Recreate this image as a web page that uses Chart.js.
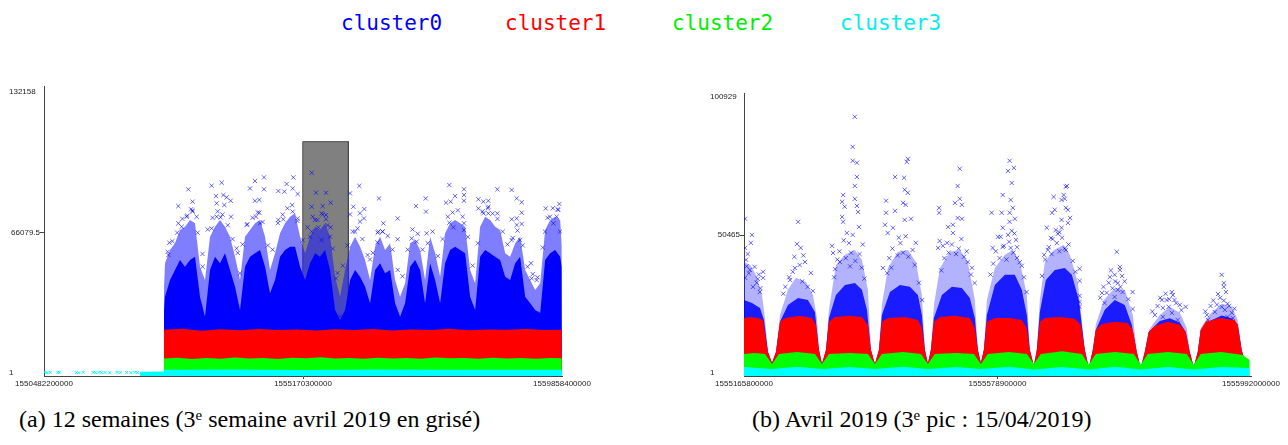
<!DOCTYPE html>
<html><head><meta charset="utf-8">
<script src="https://cdn.jsdelivr.net/npm/chart.js@4.4.1/dist/chart.umd.min.js"></script>
<style>
html,body{margin:0;padding:0;background:#fff;width:1288px;height:445px;overflow:hidden;position:relative;}
canvas{position:absolute;}
.leg{position:absolute;top:11px;font-family:'DejaVu Sans Mono',monospace;font-size:21px;line-height:24px;white-space:nowrap;}
.cap{position:absolute;font-family:'Liberation Serif',serif;font-size:24px;line-height:28px;white-space:nowrap;color:#000;}
.cap sup{font-size:0.62em;vertical-align:0.5em;line-height:0;}
</style></head><body>
<div class="leg" style="left:341px;color:#0000ff">cluster0</div>
<div class="leg" style="left:505px;color:#ff0000">cluster1</div>
<div class="leg" style="left:672px;color:#00ee00">cluster2</div>
<div class="leg" style="left:840px;color:#00eeee">cluster3</div>
<canvas id="ca" width="620" height="316" style="left:0;top:80px"></canvas>
<canvas id="cb" width="588" height="316" style="left:700px;top:80px"></canvas>
<div class="cap" id="capA" style="left:19px;top:405px">(a) 12 semaines (3<sup>e</sup> semaine avril 2019 en grisé)</div>
<div class="cap" id="capB" style="left:752px;top:405px">(b) Avril 2019 (3<sup>e</sup> pic : 15/04/2019)</div>
<script>
const DAY = 86400000;
// ---- chart (a): 12 weeks ----
const T0A = 1550482200000, T1A = 1559858400000;
const xTicksA = [1550482200000, 1555170300000, 1559858400000];
const yTicksA = [1, 66079.5, 132158];
// points are [days since axis start, value]
const greyWeekA = [[54.21,0],[54.21,108800],[63.77,108800],[63.77,0]];
const blueMidA = [[25.10,1],[25.15,40600],[25.35,51600],[26.40,57850],[27.44,61000],[28.49,67250],[29.54,68800],[30.59,72000],[31.63,70400],[32.68,50000],[33.73,43700],[34.78,64100],[35.83,68800],[36.87,72000],[37.92,68800],[38.97,64100],[40.02,54700],[41.07,43700],[42.11,64100],[43.16,67250],[44.21,70400],[45.26,72000],[46.31,64100],[47.35,48400],[48.40,56300],[49.45,65700],[50.50,70400],[51.55,73500],[52.59,75100],[53.64,64100],[54.69,56300],[55.74,64100],[56.79,68800],[57.83,67250],[58.88,70400],[59.93,64100],[60.98,45300],[62.03,35900],[63.07,48400],[64.12,59400],[65.17,64100],[66.22,59400],[67.27,53150],[68.31,43700],[69.36,59400],[70.41,64100],[71.46,57850],[72.51,61000],[73.55,43700],[74.60,35900],[75.65,42200],[76.70,61000],[77.75,62550],[78.79,57850],[79.84,43700],[80.89,64100],[81.94,56300],[82.99,45300],[84.03,65700],[85.08,70400],[86.13,72000],[87.18,70400],[88.23,68800],[89.27,48400],[90.32,42200],[91.37,68800],[92.42,73500],[93.47,72000],[94.51,68800],[95.56,67250],[96.61,56300],[97.66,54700],[98.71,61000],[99.75,64100],[100.80,48400],[101.85,43700],[102.90,39000],[103.95,42200],[104.99,67250],[106.04,72000],[107.09,73500],[108.14,72000],[108.45,60000],[108.50,1]];
const blueDenseA = [[25.10,1],[25.15,29600],[25.35,35900],[26.40,43700],[27.44,48400],[28.49,53150],[29.54,50000],[30.59,53150],[31.63,54700],[32.68,35900],[33.73,26500],[34.78,48400],[35.83,54700],[36.87,51600],[37.92,56300],[38.97,48400],[40.02,40600],[41.07,29600],[42.11,50000],[43.16,54700],[44.21,56300],[45.26,57850],[46.31,50000],[47.35,37500],[48.40,43700],[49.45,54700],[50.50,57850],[51.55,59400],[52.59,59400],[53.64,50000],[54.69,43700],[55.74,51600],[56.79,56300],[57.83,54700],[58.88,57850],[59.93,48400],[60.98,29600],[62.03,24900],[63.07,29600],[64.12,43700],[65.17,48400],[66.22,45300],[67.27,40600],[68.31,32800],[69.36,48400],[70.41,51600],[71.46,46900],[72.51,48400],[73.55,32800],[74.60,26500],[75.65,32800],[76.70,50000],[77.75,53150],[78.79,48400],[79.84,32800],[80.89,51600],[81.94,43700],[82.99,32800],[84.03,51600],[85.08,57850],[86.13,59400],[87.18,57850],[88.23,56300],[89.27,35900],[90.32,29600],[91.37,54700],[92.42,57850],[93.47,56300],[94.51,54700],[95.56,53150],[96.61,45300],[97.66,43700],[98.71,51600],[99.75,54700],[100.80,35900],[101.85,32800],[102.90,29600],[103.95,28100],[104.99,53150],[106.04,56300],[107.09,57850],[108.14,54700],[108.45,50000],[108.50,1]];
const blueOutA = [[46.09,92000],[52.24,92000],[37.22,89500],[35.13,88100],[44.20,90300],[30.24,86400],[43.16,86800],[46.09,86400],[50.84,88900],[52.10,86800],[49.09,85600],[50.35,85300],[53.14,84200],[36.03,83200],[37.57,83700],[38.27,82600],[39.11,81000],[31.14,80600],[45.11,81400],[44.20,81000],[28.14,78500],[36.17,79800],[37.78,79000],[31.14,75900],[30.80,77000],[45.11,75400],[44.41,73500],[36.17,73500],[37.01,73200],[39.18,73500],[29.89,73500],[31.98,73500],[49.09,72000],[50.14,72300],[53.14,72700],[52.10,75900],[42.46,69600],[45.25,70400],[28.14,70400],[28.84,68800],[35.13,68000],[26.26,61300],[26.05,55500],[40.36,58600],[41.06,46900],[33.24,50000],
[56.08,94200],[56.99,84800],[59.08,84800],[60.06,80100],[56.08,78200],[58.38,78500],[59.08,74300],[58.17,75100],[56.78,72000],[59.08,72300],[60.06,68500],[57.47,68500],[56.08,66500],[55.73,64100],[58.17,62500],[59.92,64100],[61.18,44500],[62.01,26500],
[66.06,88000],[64.11,84500],[70.18,82100],[64.81,78200],[67.11,77100],[66.20,75100],[67.04,72700],[64.11,74600],[66.20,71200],[71.09,70400],[74.10,72700],[70.95,66500],[70.05,66500],[68.30,53400],[69.84,61400],[65.16,66500],[74.10,62900],[79.96,82100],[77.94,78500],[80.03,75900],[77.03,63300],[78.08,61800],[80.17,65700],[84.92,88400],[84.22,80100],[85.20,80600],[86.11,83200],[87.99,86400],[87.99,83700],[87.99,81000],[84.92,70700],[87.99,70400],[87.99,67200],[85.76,68500],[91.00,81700],[92.04,80600],[93.09,81000],[91.00,77400],[93.09,78200],[92.04,75100],[93.09,75100],[94.98,86400],[94.98,75100],[97.98,86100],[99.03,82100],[100.08,80300],[100.08,75400],[97.98,72300],[99.03,72700],[100.08,70100],[99.03,69600],[97.98,62500],[99.73,62500],[102.03,51600],[102.17,44500],[103.22,43700],[103.92,28100],[105.11,77400],[107.97,79500],[107.41,73500],[106.01,73500],[106.71,70400],[107.76,76700],[104.97,66500],[108.11,66500]];
const blueEdgeA = [[25.9,57000],[26.9,62000],[27.9,66000],[29.0,72500],[30.0,74000],[31.1,76500],[32.2,66000],[33.2,56000],[34.3,67500],[35.3,73000],[36.4,76000],[37.4,74500],[38.5,69500],[39.5,63000],[40.6,56500],[41.6,60500],[42.6,70000],[43.7,73000],[44.8,75500],[45.8,71000],[46.9,60000],[47.9,58000],[49.0,70500],[50.0,74500],[51.0,77500],[52.0,79000],[53.1,71500],[54.2,62500],[55.2,68500],[56.3,73500],[57.3,72000],[58.4,74500],[59.4,69500],[60.5,58500],[61.5,47000],[62.6,50500],[63.6,60000],[64.7,66500],[65.7,68000],[66.7,63000],[67.8,55500],[68.9,56500],[69.9,66000],[70.9,66500],[72.0,64500],[73.0,58000],[74.1,48500],[75.1,45500],[76.2,58000],[77.2,67500],[78.3,65500],[79.3,58000],[80.4,61000],[81.4,66500],[82.5,55000],[83.5,63000],[84.6,73500],[85.6,75500],[86.7,76500],[87.7,73500],[88.8,64000],[89.8,50500],[90.9,61000],[91.9,76000],[93.0,77500],[94.0,75000],[95.0,72500],[96.1,66500],[97.1,60500],[98.2,63500],[99.2,67000],[100.3,60000],[101.3,50000],[102.4,46500],[103.4,45000],[104.5,59000],[105.5,73000],[106.6,77500],[107.6,77000]];
const redA = [[25.10,1],[25.12,20300],[29,20800],[33,19900],[37,20600],[41,20100],[45,20700],[49,20200],[53,20500],[57,20000],[61,20600],[65,20200],[69,20700],[73,20000],[77,20500],[81,20200],[85,20800],[89,20100],[93,20500],[97,20300],[101,20700],[105,20200],[108.47,20400],[108.50,1]];
const greenA = [[25.10,1],[25.12,6800],[28,7200],[31,6600],[34,7100],[37,6700],[40,7300],[43,6800],[46,7000],[49,6600],[52,7200],[55,6900],[58,7400],[61,6800],[64,7100],[67,6700],[70,7200],[73,6800],[76,7000],[79,6700],[82,7300],[85,6900],[88,7100],[91,6700],[94,7200],[97,6800],[100,7000],[103,6700],[106,7100],[108.47,6900],[108.50,1]];
const cyanA = [[20.10,1],[20.15,600],[25.05,700],[25.12,1500],[40,1600],[55,1450],[70,1600],[85,1500],[100,1550],[108.48,1500],[108.52,1]];
const cyanOutA = [[0.2,300],[0.6,150],[1.3,250],[2.9,200],[3.2,350],[6.8,200],[7.3,150],[8.2,300],[10.3,250],[10.8,150],[11.5,300],[12.1,200],[12.8,250],[13.8,150],[15.3,300],[16.0,200],[17.3,250],[18.2,150],[19.0,300],[19.6,200]];

// ---- chart (b): April 2019 ----
const T0B = 1555165800000, T1B = 1555992000000;
const xTicksB = [1555165800000, 1555578900000, 1555992000000];
const yTicksB = [1, 50465, 100929];
const blueMidB = [[0,40600],[0.113,39500],[0.226,35900],[0.339,28500],[0.396,20100],[0.452,7700],[0.528,3660],[0.603,7700],[0.679,21200],[0.829,30400],[0.980,34800],[1.169,33300],[1.301,28500],[1.376,20100],[1.414,8400],[1.470,3300],[1.546,8400],[1.602,23100],[1.734,39500],[1.904,43200],[2.092,45000],[2.224,41400],[2.337,30400],[2.394,8400],[2.469,3300],[2.545,8400],[2.601,24900],[2.714,38400],[2.903,44300],[3.091,45000],[3.242,40600],[3.355,28500],[3.412,8400],[3.468,3300],[3.525,8400],[3.582,24900],[3.695,38400],[3.883,44300],[4.072,45000],[4.222,40600],[4.354,26700],[4.411,8400],[4.467,3660],[4.524,8400],[4.581,26700],[4.731,38400],[4.920,43200],[5.071,45000],[5.203,40600],[5.335,28500],[5.391,8400],[5.467,2560],[5.523,8400],[5.580,26700],[5.674,40600],[5.844,45000],[6.032,46850],[6.145,43200],[6.296,33300],[6.371,19400],[6.428,8400],[6.503,1830],[6.579,8400],[6.635,17600],[6.786,26700],[6.993,31100],[7.182,30400],[7.333,21200],[7.408,7700],[7.483,1830],[7.559,7700],[7.634,15700],[7.842,21200],[8.030,24200],[8.219,22000],[8.350,16500],[8.407,7700],[8.483,2200],[8.558,7700],[8.614,16500],[8.784,21500],[9.010,25300],[9.199,24200],[9.312,19400],[9.387,8400],[9.463,2900]];
const blueDenseB = [[0,26700],[0.151,25600],[0.302,23800],[0.377,19400],[0.452,7700],[0.528,3660],[0.603,7700],[0.679,18700],[0.829,24900],[1.018,27450],[1.206,26700],[1.338,22300],[1.414,8400],[1.470,3300],[1.546,8400],[1.602,20100],[1.734,28500],[1.904,32200],[2.092,32900],[2.224,30400],[2.319,23100],[2.394,8400],[2.469,3300],[2.545,8400],[2.601,21200],[2.752,29600],[2.941,32200],[3.129,31500],[3.280,28500],[3.355,21200],[3.412,8400],[3.468,3300],[3.525,8400],[3.582,20100],[3.732,28500],[3.921,31500],[4.109,31100],[4.260,27450],[4.354,20100],[4.411,8400],[4.467,3660],[4.524,8400],[4.581,21200],[4.731,32200],[4.920,35900],[5.108,35900],[5.240,30400],[5.335,21200],[5.391,8400],[5.467,2560],[5.523,8400],[5.580,22300],[5.693,34000],[5.862,37700],[6.051,38400],[6.183,35900],[6.315,26700],[6.428,8400],[6.503,1830],[6.579,8400],[6.635,15700],[6.805,23100],[6.993,26700],[7.182,24900],[7.314,17600],[7.408,7700],[7.483,1830],[7.559,7700],[7.634,15000],[7.842,19000],[8.030,20000],[8.219,18500],[8.332,15000],[8.407,7700],[8.483,2200],[8.558,7700],[8.614,15700],[8.784,19000],[9.010,21000],[9.199,20000],[9.312,17600],[9.387,8400],[9.463,2900]];
const blueOutB = [[0.02,56400],[0.15,50500],[0.02,45750],[0.13,47600],[0.04,41400],[0.11,37700],[0.36,37000],[0.36,34800],[0.02,34800],[0.26,34400],[0.17,31500],[0.30,29600],
[1.02,55300],[1.00,47200],[1.07,45750],[0.96,38400],[1.26,36600],[0.87,34000],[1.15,40600],
[2.09,93700],[2.05,82700],[2.05,77600],[2.13,76900],[2.13,71700],[2.09,68400],[1.87,65100],[1.85,62600],[1.90,60800],[2.09,63700],[2.13,61100],[2.15,58900],[1.85,57100],[1.87,55300],[1.66,46500],[1.68,43900],[1.81,40600],[1.94,51200],[2.05,50500],[2.17,53400],
[2.85,71700],[3.02,71400],[3.09,78300],[3.07,77200],[3.03,67000],[3.09,65900],[3.00,62200],[3.05,61500],[2.68,63000],[2.68,58600],[2.85,59300],[3.03,56000],[3.15,56400],[2.66,54200],[2.71,51200],[2.81,53100],[3.24,47600],[2.62,38400],[3.36,26700],
[4.07,74700],[4.03,68400],[4.07,63700],[3.98,62200],[4.11,61500],[3.68,60400],[3.68,58600],[4.03,56700],[4.11,56400],[3.94,54200],[3.85,53400],[3.94,51200],[3.69,48300],[3.83,47600],[3.66,45750],[4.22,40600],[4.35,32900],
[4.67,58600],[4.79,49800],[4.69,45750],[5.01,77600],[4.98,73900],[5.09,75000],[5.05,69500],[4.88,65100],[5.03,63300],[5.07,60400],[4.86,58600],[5.01,58600],[5.11,56400],[5.01,55300],[4.88,53100],[5.05,52000],[4.84,49800],[4.98,50500],[5.13,48700],[4.88,46100],[5.03,45750],[5.15,42100],[5.24,39200],[5.33,29600],
[6.07,68100],[6.09,68400],[6.03,65100],[5.84,64400],[5.99,63300],[6.05,63700],[6.07,60400],[5.86,59700],[6.11,59700],[5.81,58600],[6.15,56700],[5.99,56000],[6.11,54900],[5.71,53100],[5.99,53100],[5.88,52300],[5.92,50900],[5.82,49000],[5.79,49400],[5.73,45000],[6.07,45000],[5.66,43200],[6.33,38100],[6.33,33700],[6.33,28200],[6.33,26000],[6.33,24200],
[7.03,44300],[7.09,38800],[7.09,37700],[6.99,35900],[7.13,35500],[6.90,35100],[7.05,32900],[6.75,29300],[6.84,29300],[7.14,29600],[7.33,29600],[7.33,23400],[6.80,25600],[6.99,27800],[7.05,30400],
[8.07,29600],[8.09,28500],[7.88,26700],[7.97,26700],[8.12,26700],[8.22,24900],[8.33,24200],[7.90,23800],[8.01,24200],[7.75,21200],[7.90,20500],[8.18,19400],[8.07,22000],
[9.01,35900],[9.05,32900],[9.05,31500],[8.94,28900],[9.09,29600],[9.12,25300],[9.01,24200],[9.07,23100],[9.20,22000],[8.73,21200],[8.88,22300],[9.12,20500],[9.22,20100],[8.75,19400]];
const blueCloudB = [[0.05,39000],[0.09,36500],[0.20,38800],[0.24,33000],[0.31,31000],[0.07,43500],[0.28,36000],
[0.78,31500],[0.85,35000],[0.92,37000],[1.05,39500],[1.10,33500],[1.20,31500],[1.30,30000],[0.95,42500],[1.12,43000],[0.74,29000],
[1.72,38000],[1.76,41500],[1.80,44500],[1.92,42000],[1.98,47500],[2.02,44000],[2.10,41000],[2.18,43500],[2.22,38500],[2.27,34500],[1.70,35000],[2.00,39000],[1.88,48500],[2.24,47000],
[2.70,36500],[2.74,42000],[2.80,45500],[2.90,43000],[2.95,47500],[3.00,44000],[3.10,42500],[3.18,45000],[3.22,39500],[3.30,33000],[2.78,38500],[3.05,50000],[2.92,49500],
[3.72,37500],[3.78,42000],[3.86,44000],[3.92,47000],[4.00,43500],[4.05,45500],[4.15,42500],[4.20,44500],[4.28,36000],[3.75,46500],[4.10,49000],[4.30,38500],
[4.70,40000],[4.75,44500],[4.82,42000],[4.90,46500],[4.95,41500],[5.00,48000],[5.08,44000],[5.15,46000],[5.20,40500],[5.28,35000],[4.65,36000],[5.10,51000],
[5.68,41500],[5.75,46000],[5.80,43500],[5.90,47500],[5.95,44500],[6.00,49500],[6.05,45500],[6.12,47000],[6.20,41000],[6.25,37000],[5.62,35500],[5.95,51500],
[6.72,27500],[6.78,31500],[6.88,33000],[6.95,31000],[7.00,33500],[7.10,31500],[7.18,33500],[7.25,27000],[6.92,37500],
[7.80,24500],[7.85,27500],[7.95,29000],[8.02,27000],[8.15,25500],[8.25,23000],[7.70,22500],
[8.80,24500],[8.85,26500],[8.92,25000],[8.98,27500],[9.05,26500],[9.15,24500],[9.25,23500],[8.70,22500]];
const redB = [[0,20100],[0.113,20500],[0.264,20100],[0.358,19400],[0.452,7700],[0.528,3660],[0.603,7700],[0.679,18700],[0.773,20100],[1.056,20900],[1.282,20100],[1.357,17600],[1.414,8400],[1.470,3300],[1.546,8400],[1.602,18700],[1.715,20500],[1.998,20900],[2.224,20500],[2.337,17600],[2.394,8400],[2.469,3300],[2.545,8400],[2.601,18700],[2.714,20100],[3.035,20500],[3.280,19400],[3.355,16500],[3.412,8400],[3.468,3300],[3.525,8400],[3.582,18700],[3.695,20500],[3.977,20900],[4.260,20100],[4.354,16500],[4.411,8400],[4.467,3660],[4.524,8400],[4.581,18700],[4.731,20100],[5.014,20100],[5.240,19400],[5.335,16500],[5.391,8400],[5.467,2560],[5.523,8400],[5.580,18700],[5.674,20100],[5.957,20500],[6.239,19800],[6.352,17600],[6.428,8400],[6.503,1830],[6.579,8400],[6.635,15700],[6.748,17900],[6.993,18700],[7.238,18300],[7.333,15700],[7.408,7700],[7.483,1830],[7.559,7700],[7.634,15000],[7.747,17200],[7.992,18700],[8.219,17600],[8.332,15000],[8.407,7700],[8.483,2200],[8.558,7700],[8.614,15700],[8.709,18700],[8.973,20100],[9.255,19400],[9.312,17600],[9.387,8400],[9.463,2900]];
const greenB = [[0,6950],[0.2,7300],[0.396,6950],[0.528,3300],[0.660,6950],[1.0,7700],[1.338,6950],[1.470,3300],[1.602,6950],[2.0,7300],[2.337,6950],[2.469,3300],[2.601,6950],[3.0,7700],[3.336,6950],[3.468,3300],[3.600,6950],[4.0,7300],[4.335,6950],[4.467,3300],[4.599,6950],[5.0,7700],[5.335,6950],[5.467,3300],[5.599,6950],[6.0,8000],[6.371,6950],[6.503,3000],[6.635,6950],[7.0,7700],[7.352,6950],[7.483,3000],[7.615,6950],[8.0,7700],[8.350,6950],[8.483,3000],[8.614,6950],[9.0,7700],[9.406,6600],[9.538,4800]];
const cyanB = [[0,2200],[0.528,1500],[1.0,2300],[1.470,1500],[2.0,2200],[2.469,1500],[3.0,2300],[3.468,1500],[4.0,2200],[4.467,1500],[5.0,2300],[5.467,1300],[6.0,2200],[6.503,1300],[7.0,2300],[7.483,1300],[8.0,2200],[8.483,1300],[9.0,2200],[9.538,1800]];

const BLUE='#0000ff', RED='#ff0000', GREEN='#00ff00', CYAN='#00ffff';
const NONE='rgba(0,0,0,0)';
function pts(arr, t0){ return arr.map(p => ({x: t0 + p[0]*DAY, y: p[1]})); }
function area(arr, t0, color, order, extra){
  return Object.assign({type:'line', data: pts(arr,t0), fill:'start', backgroundColor: color,
    borderColor: NONE, borderWidth: 0, pointRadius: 0, tension: 0, order: order}, extra||{});
}
function crosses(arr, t0, color, order, r){
  return {type:'scatter', data: pts(arr,t0), pointStyle:'crossRot', pointRadius: r, pointBorderWidth: 1,
    borderColor: color, backgroundColor: NONE, borderWidth: 1, order: order};
}
const yLabels = {
  id: 'yLabels',
  afterDraw(chart, args, opts) {
    const s = chart.scales.y, ctx = chart.ctx;
    ctx.save();
    ctx.font = '8px "Liberation Sans", Arial, sans-serif';
    ctx.fillStyle = '#222';
    ctx.textBaseline = 'middle';
    opts.ticks.forEach((v, i) => {
      const y = s.getPixelForValue(v);
      if (i === 1) { ctx.textAlign = 'right'; ctx.fillText(String(v), s.right - 4, y); }
      else { ctx.textAlign = 'left'; ctx.fillText(String(v), opts.left, y); }
    });
    ctx.restore();
  }
};
function makeChart(id, cfg){
  const tickCol = c => (c.index === 1 ? '#444' : NONE);
  return new Chart(document.getElementById(id), {
    type: 'scatter',
    data: { datasets: cfg.datasets },
    plugins: [yLabels],
    options: {
      responsive: false, animation: false, devicePixelRatio: 1,
      layout: { padding: cfg.padding },
      plugins: { legend: {display:false}, tooltip: {enabled:false}, yLabels: {ticks: cfg.yTicks, left: cfg.yLabelLeft} },
      events: [],
      scales: {
        x: { type:'linear', min: cfg.xMin, max: cfg.xMax,
             afterBuildTicks: s => { s.ticks = cfg.xTicks.map(v => ({value: v})); },
             afterFit: s => { s.height = 20; },
             ticks: { autoSkip:false, maxRotation:0, minRotation:0, padding:0, color:'#222',
                      font:{family:'"Liberation Sans", Arial, sans-serif', size:8}, callback: v => String(v) },
             grid: { drawOnChartArea:false, drawTicks:true, tickLength:3, color: tickCol, tickColor: tickCol },
             border: { display:true, color:'#444', width:1 } },
        y: { type:'linear', min: cfg.yMin, max: cfg.yMax,
             afterBuildTicks: s => { s.ticks = cfg.yTicks.map(v => ({value: v})); },
             afterFit: s => { s.width = 44; },
             ticks: { display:false },
             grid: { drawOnChartArea:false, drawTicks:true, tickLength:4, color: tickCol, tickColor: tickCol },
             border: { display:true, color:'#444', width:1 } }
      }
    }
  });
}
makeChart('ca', {
  padding: {left:0, top:6, right:58, bottom:0},
  xMin: T0A, xMax: T1A, xTicks: xTicksA,
  yMin: -1410, yMax: 134980, yTicks: yTicksA, yLabelLeft: 9,
  datasets: [
    area(greyWeekA, T0A, '#808080', 10, {borderColor:'#4a4a4a', borderWidth:1}),
    area(blueMidA, T0A, 'rgba(20,20,255,0.55)', 9),
    area(blueDenseA, T0A, BLUE, 8),
    crosses(blueEdgeA, T0A, 'rgba(0,0,255,0.6)', 7, 3),
    crosses(blueOutA, T0A, 'rgba(0,0,255,0.6)', 7, 3),
    area(redA, T0A, RED, 6),
    area(greenA, T0A, GREEN, 5),
    area(cyanA, T0A, CYAN, 4),
    crosses(cyanOutA, T0A, CYAN, 3, 2)
  ]
});
makeChart('cb', {
  padding: {left:0, top:13, right:37, bottom:0},
  xMin: T0B, xMax: T1B, xTicks: xTicksB,
  yMin: -1096, yMax: 102392, yTicks: yTicksB, yLabelLeft: 10,
  datasets: [
    area(blueMidB, T0B, 'rgba(0,0,255,0.3)', 9),
    area(blueDenseB, T0B, 'rgba(0,0,255,0.85)', 8),
    crosses(blueCloudB, T0B, 'rgba(0,0,255,0.6)', 7, 3),
    crosses(blueOutB, T0B, 'rgba(0,0,255,0.6)', 7, 3),
    area(redB, T0B, RED, 6),
    area(greenB, T0B, GREEN, 5),
    area(cyanB, T0B, CYAN, 4)
  ]
});
</script>
</body></html>
